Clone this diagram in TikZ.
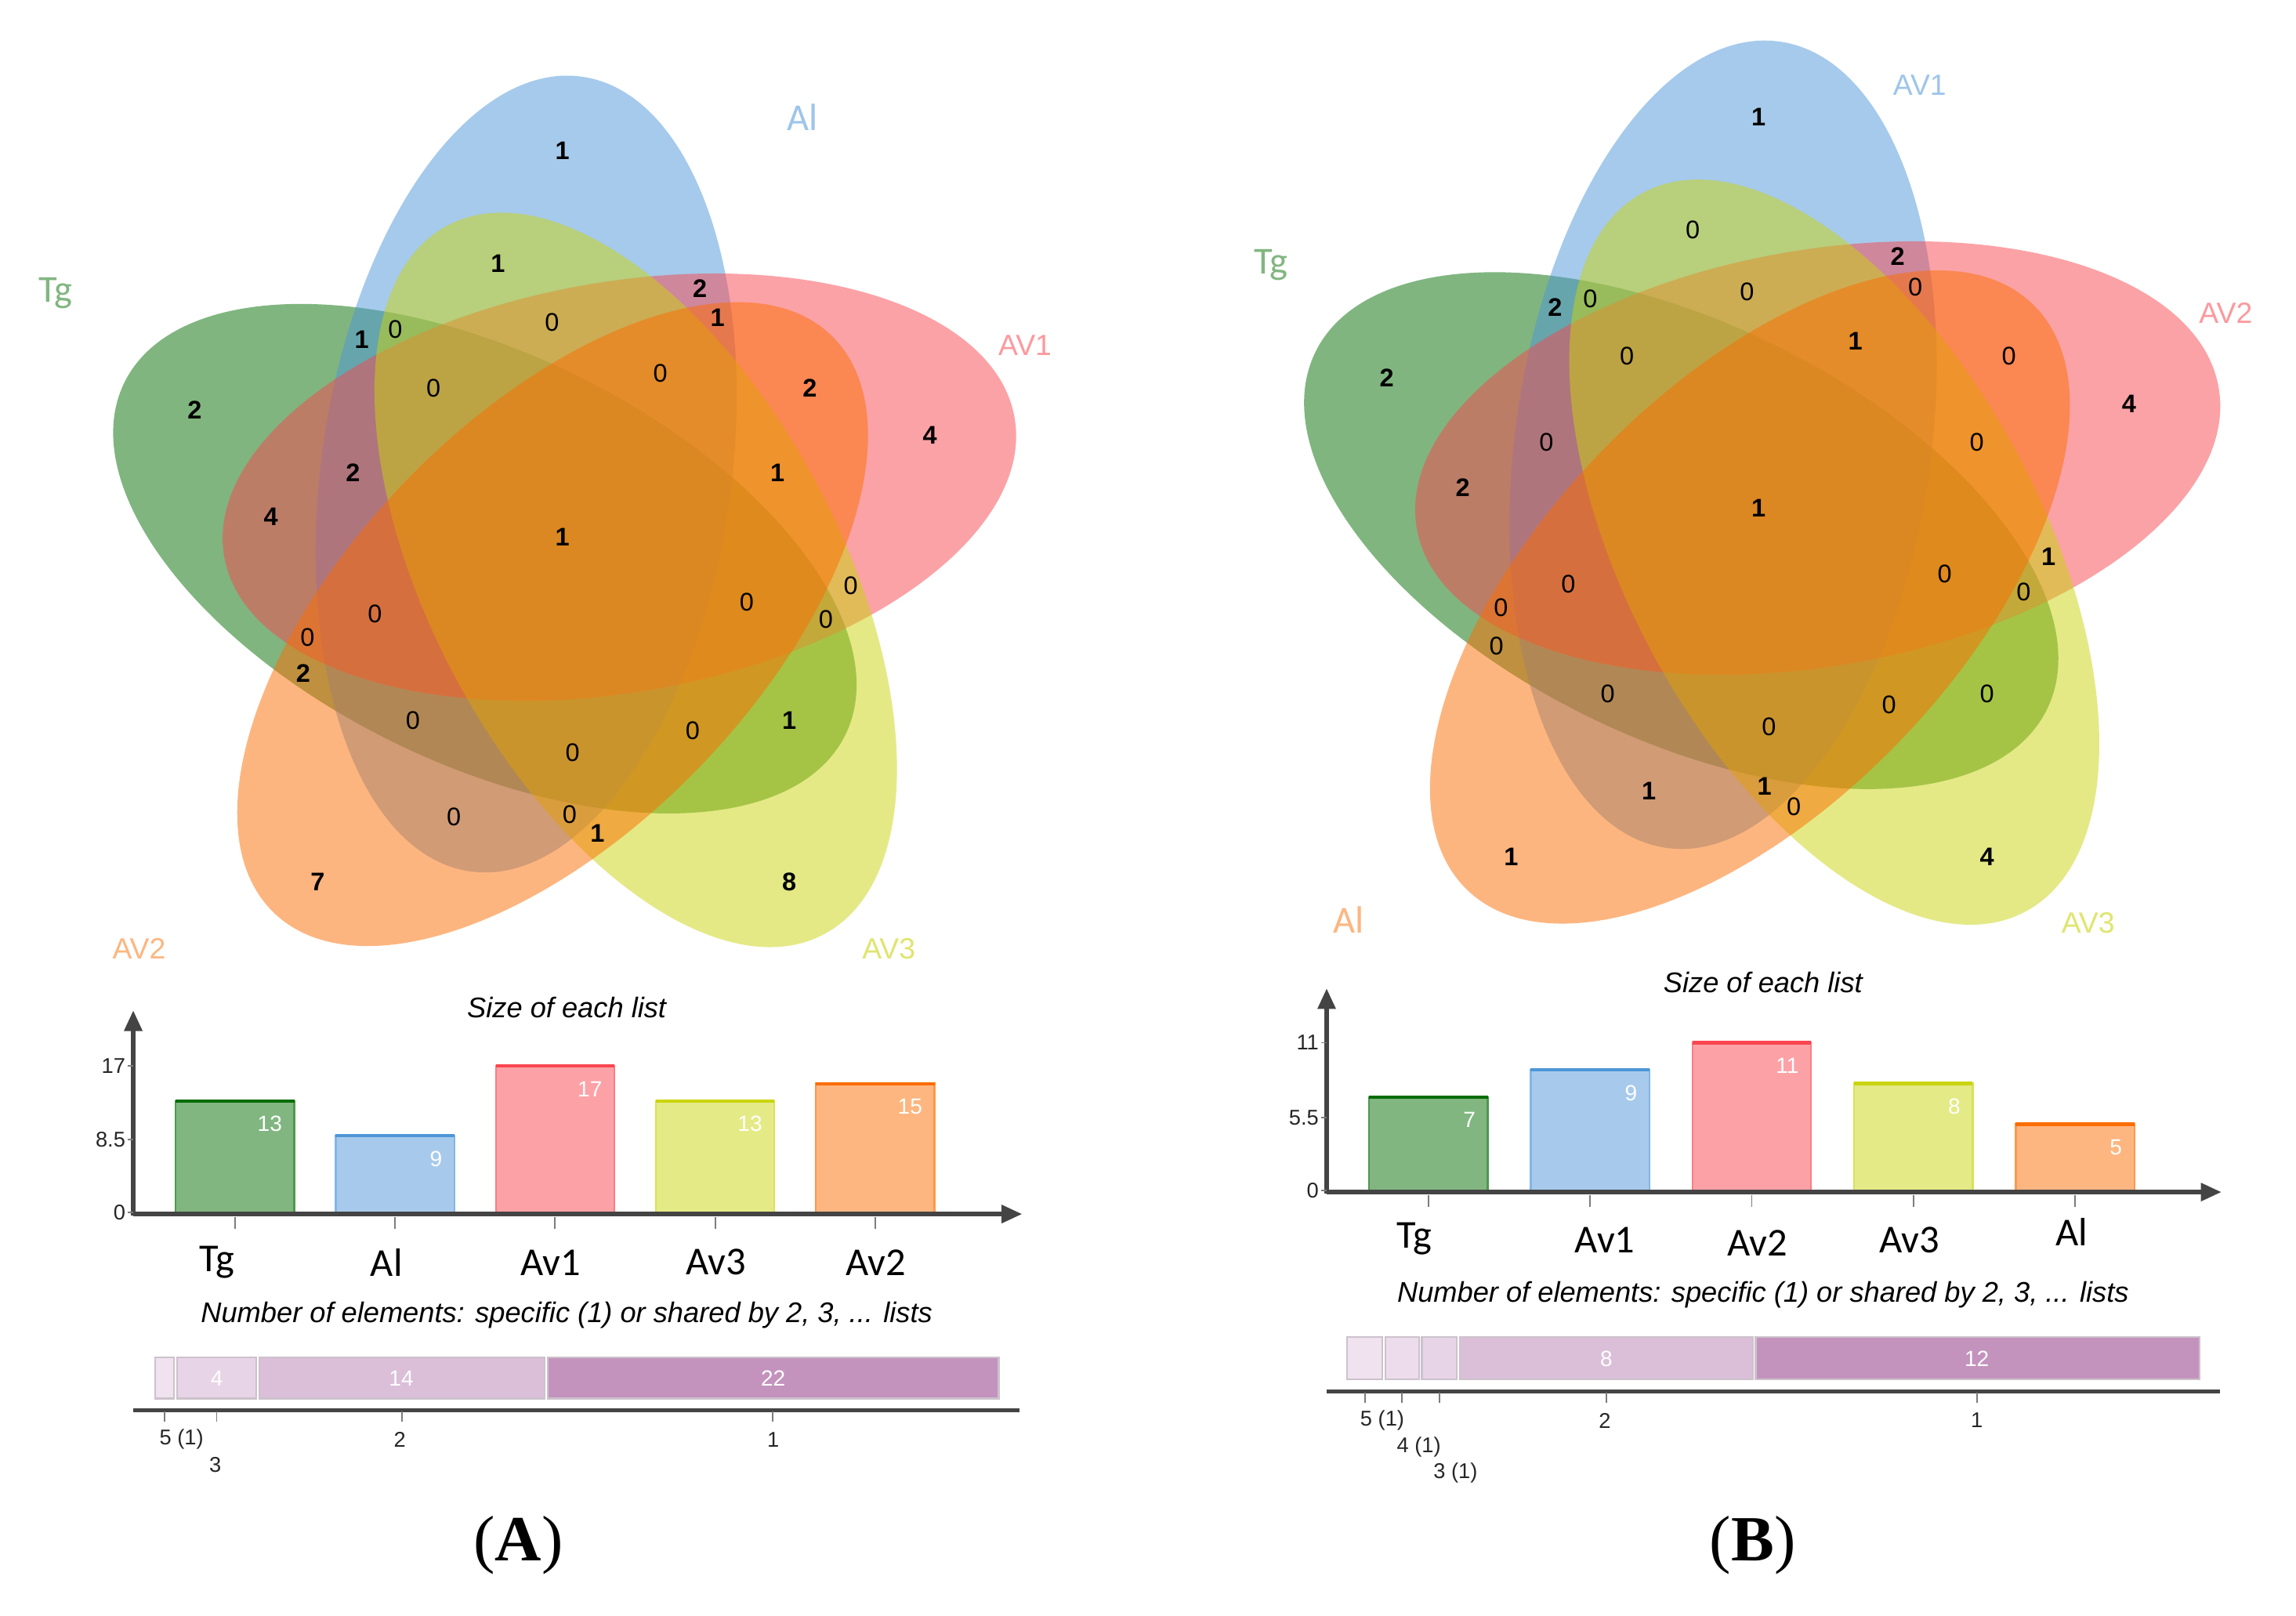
\documentclass[tikz,border=0pt]{standalone}
\usepackage{fontspec}
\setmainfont{Liberation Sans}
\newfontfamily\calib{Carlito}
\newfontfamily\serifA{Liberation Serif}
\usetikzlibrary{arrows.meta}
\definecolor{cg}{HTML}{036C02}
\definecolor{cb}{HTML}{4E96D8}
\definecolor{cr}{HTML}{F9464F}
\definecolor{cy}{HTML}{CAD40E}
\definecolor{co}{HTML}{FC6D00}
\definecolor{axisgray}{HTML}{444444}
\definecolor{pA}{HTML}{F0E2EF}
\definecolor{pB}{HTML}{E8D4E7}
\definecolor{pC}{HTML}{DBBFD9}
\definecolor{pD}{HTML}{C393BD}
\definecolor{segedge}{HTML}{CCC2CC}
\newcommand\vennfive[5]{%
  \foreach \k/\col in {4/cg,0/cb,1/cr,2/cy,3/co}{%
    \pgfmathsetmacro\al{118-72*\k}%
    \pgfmathsetmacro\th{82-72*\k}%
    \pgfmathsetmacro\ex{#1+#3*cos(\al)}%
    \pgfmathsetmacro\ey{#2-#3*sin(\al)}%
    \fill[\col, fill opacity=0.5, shift={(\ex,\ey)}, rotate=\th] (0,0) ellipse [x radius=#4, y radius=#5];
  }}
\begin{document}
\begin{tikzpicture}[x=0.5pt,y=-0.5pt,
  vb/.style={font=\fontsize{8.7}{9}\selectfont\bfseries, inner sep=0pt},
  vz/.style={font=\fontsize{8.7}{9}\selectfont, inner sep=0pt},
  setlabA/.style={font=\calib\fontsize{13}{14}\selectfont, inner sep=0pt},
  setlabB/.style={font=\fontsize{10}{11}\selectfont, inner sep=0pt},
  charttitle/.style={font=\itshape\fontsize{9.7}{10}\selectfont, inner sep=0pt},
  catlab/.style={font=\calib\fontsize{13.5}{14}\selectfont, inner sep=0pt},
  ticklab/.style={font=\fontsize{7.3}{8}\selectfont, inner sep=0pt, text=black!85},
  vallab/.style={font=\fontsize{7.5}{8}\selectfont, inner sep=0pt, text=white},
  axisline/.style={draw=axisgray, line width=1.4pt},
  axisarrow/.style={axisline, -{Triangle[length=7pt,width=6pt]}},
  smalltick/.style={draw=axisgray!70, line width=0.5pt},
  segline/.style={draw=segedge, line width=0.6pt},
  panel/.style={font=\serifA\fontsize{22}{24}\selectfont, inner sep=0pt}]
\useasboundingbox (0,0) rectangle (1568,1103);
\fill[white] (0,0) rectangle (1568,1103);

% ---------------- Venn A ----------------
\vennfive{385}{372}{54.7}{274}{140}
\foreach \x/\y/\t [count=\i] in {384/103/1, 340/180/1, 478/197/2, 490/217/1, 247/232/1, 133/280/2, 553/265/2, 635/297/4, 241/323/2, 531/323/1, 185/353/4, 384/367/1, 207/460/2, 539/492/1, 408/569/1, 217/602/7, 539/602/8}
  \node[vb] (ab\i) at (\x,\y) {\t};
\foreach \x/\y [count=\i] in {270/225, 377/220, 296/265, 451/255, 256/419, 510/411, 581/400, 564/423, 210/435, 282/492, 473/499, 391/514, 310/558, 389/556}
  \node[vz] (az\i) at (\x,\y) {0};
\node[setlabA, text=cb!55] (aAl) at (548,80) {Al};
\node[setlabA, text=cg!50] (aTg) at (38,200) {Tg};
\node[setlabB, text=cr!55] (aAV1) at (700,236) {AV1};
\node[setlabB, text=co!50] (aAV2) at (95,648) {AV2};
\node[setlabB, text=cy!60] (aAV3) at (607,648) {AV3};

% ---------------- Venn B ----------------
\vennfive{1202.8}{352.7}{55.5}{278}{142}
\foreach \x/\y/\t [count=\i] in {1201/80/1, 1296/175/2, 1062/210/2, 1267/233/1, 947/258/2, 1454/276/4, 999/333/2, 1201/347/1, 1399/380/1, 1126/540/1, 1205/537/1, 1032/585/1, 1357/585/4}
  \node[vb] (bb\i) at (\x,\y) {\t};
\foreach \x/\y [count=\i] in {1156/157, 1308/196, 1193/199, 1086/204, 1111/243, 1372/243, 1056/302, 1350/302, 1071/399, 1328/392, 1382/404, 1025/415, 1022/441, 1098/474, 1357/474, 1290/481, 1208/496, 1225/551}
  \node[vz] (bz\i) at (\x,\y) {0};
\node[setlabB, text=cb!55] (bAV1) at (1311,58) {AV1};
\node[setlabA, text=cg!50] (bTg) at (868,181) {Tg};
\node[setlabB, text=cr!55] (bAV2) at (1520,214) {AV2};
\node[setlabA, text=co!50] (bAl) at (921,628) {Al};
\node[setlabB, text=cy!60] (bAV3) at (1426,630) {AV3};

% ---------------- Bar chart A ----------------
\node[charttitle] (at1) at (387,688) {Size of each list};
\foreach \v/\c/\lab/\lx [count=\i from 0] in {13/cg/Tg/148, 9/cb/Al/264, 17/cr/Av1/376, 13/cy/Av3/489, 15/co/Av2/598}{
  \pgfmathsetmacro\xl{120+109.3*\i}
  \pgfmathsetmacro\xr{\xl+81}
  \pgfmathsetmacro\yt{829-5.94*\v}
  \fill[\c!50] (\xl,\yt) rectangle (\xr,829);
  \draw[\c!70, line width=0.6pt] (\xl,829) -- (\xl,\yt) -- (\xr,\yt) -- (\xr,829);
  \draw[\c, line width=1.1pt] (\xl,\yt) -- (\xr,\yt);
  \node[vallab, anchor=north east] (av\i) at (\xr-8,\yt+10) {\v};
  \draw[smalltick] (\xl+40.5,831) -- (\xl+40.5,839);
  \node[catlab] (ac\i) at (\lx,862) {\lab};
}
\draw[axisarrow] (91,830) -- (91,690);
\draw[axisarrow] (91,829) -- (698,829);
\foreach \yy/\t [count=\i] in {728/17, 778/8.5, 828/0}{
  \node[ticklab, anchor=east] (ay\i) at (86,\yy) {\t};
  \draw[smalltick] (87,\yy) -- (91,\yy);
}
\node[charttitle] (at2) at (387,898) {Number of elements: specific (1) or shared by 2, 3, ... lists};
\draw[segline, fill=pA] (106,927) rectangle (119,955);
\draw[segline, fill=pB] (121,927) rectangle (175,955);
\draw[segline, fill=pC] (177,927) rectangle (372,955);
\draw[segline, fill=pD] (374,927) rectangle (682,955);
\node[vallab] (as2) at (148,941) {4};
\node[vallab] (as3) at (274,941) {14};
\node[vallab] (as4) at (528,941) {22};
\draw[axisline] (91,963) -- (696,963);
\foreach \xx in {112.5,148,274.5,527.5} \draw[smalltick] (\xx,964) -- (\xx,971);
\node[ticklab] (ax1) at (124,983) {5 (1)};
\node[ticklab] (ax2) at (147,1000) {3};
\node[ticklab] (ax3) at (273,983) {2};
\node[ticklab] (ax4) at (528,983) {1};
\node[panel] (pa) at (354,1055) {(\textbf{A})};

% ---------------- Bar chart B ----------------
\node[charttitle] (bt1) at (1204,671) {Size of each list};
\foreach \v/\c/\lab/\lx/\ly [count=\i from 0] in {7/cg/Tg/966/846, 9/cb/Av1/1096/847, 11/cr/Av2/1200/849, 8/cy/Av3/1304/847, 5/co/Al/1415/841}{
  \pgfmathsetmacro\xl{935+110.4*\i}
  \pgfmathsetmacro\xr{\xl+81}
  \pgfmathsetmacro\yt{814-9.27*\v}
  \fill[\c!50] (\xl,\yt) rectangle (\xr,814);
  \draw[\c!70, line width=0.6pt] (\xl,814) -- (\xl,\yt) -- (\xr,\yt) -- (\xr,814);
  \draw[\c, line width=1.1pt] (\xl,\yt) -- (\xr,\yt);
  \node[vallab, anchor=north east] (bv\i) at (\xr-8,\yt+10) {\v};
  \draw[smalltick] (\xl+40.5,816) -- (\xl+40.5,824);
  \node[catlab] (bc\i) at (\lx,\ly) {\lab};
}
\draw[axisarrow] (906,815) -- (906,675);
\draw[axisarrow] (906,814) -- (1517,814);
\foreach \yy/\t [count=\i] in {712/11, 763/5.5, 813/0}{
  \node[ticklab, anchor=east] (by\i) at (901,\yy) {\t};
  \draw[smalltick] (902,\yy) -- (906,\yy);
}
\node[charttitle] (bt2) at (1204,884) {Number of elements: specific (1) or shared by 2, 3, ... lists};
\draw[segline, fill=pA] (920,913) rectangle (944,942);
\draw[segline, fill=pA!60!pB] (946,913) rectangle (969,942);
\draw[segline, fill=pB] (971,913) rectangle (995,942);
\draw[segline, fill=pC] (997,913) rectangle (1197,942);
\draw[segline, fill=pD] (1199,913) rectangle (1502,942);
\node[vallab] (bs4) at (1097,928) {8};
\node[vallab] (bs5) at (1350,928) {12};
\draw[axisline] (906,950) -- (1516,950);
\foreach \xx in {932,957.5,983,1097,1350} \draw[smalltick] (\xx,951) -- (\xx,958);
\node[ticklab] (bx1) at (944,970) {5 (1)};
\node[ticklab] (bx2) at (969,988) {4 (1)};
\node[ticklab] (bx3) at (994,1006) {3 (1)};
\node[ticklab] (bx4) at (1096,970) {2};
\node[ticklab] (bx5) at (1350,970) {1};
\node[panel] (pb) at (1197,1055) {(\textbf{B})};
\end{tikzpicture}
\end{document}
